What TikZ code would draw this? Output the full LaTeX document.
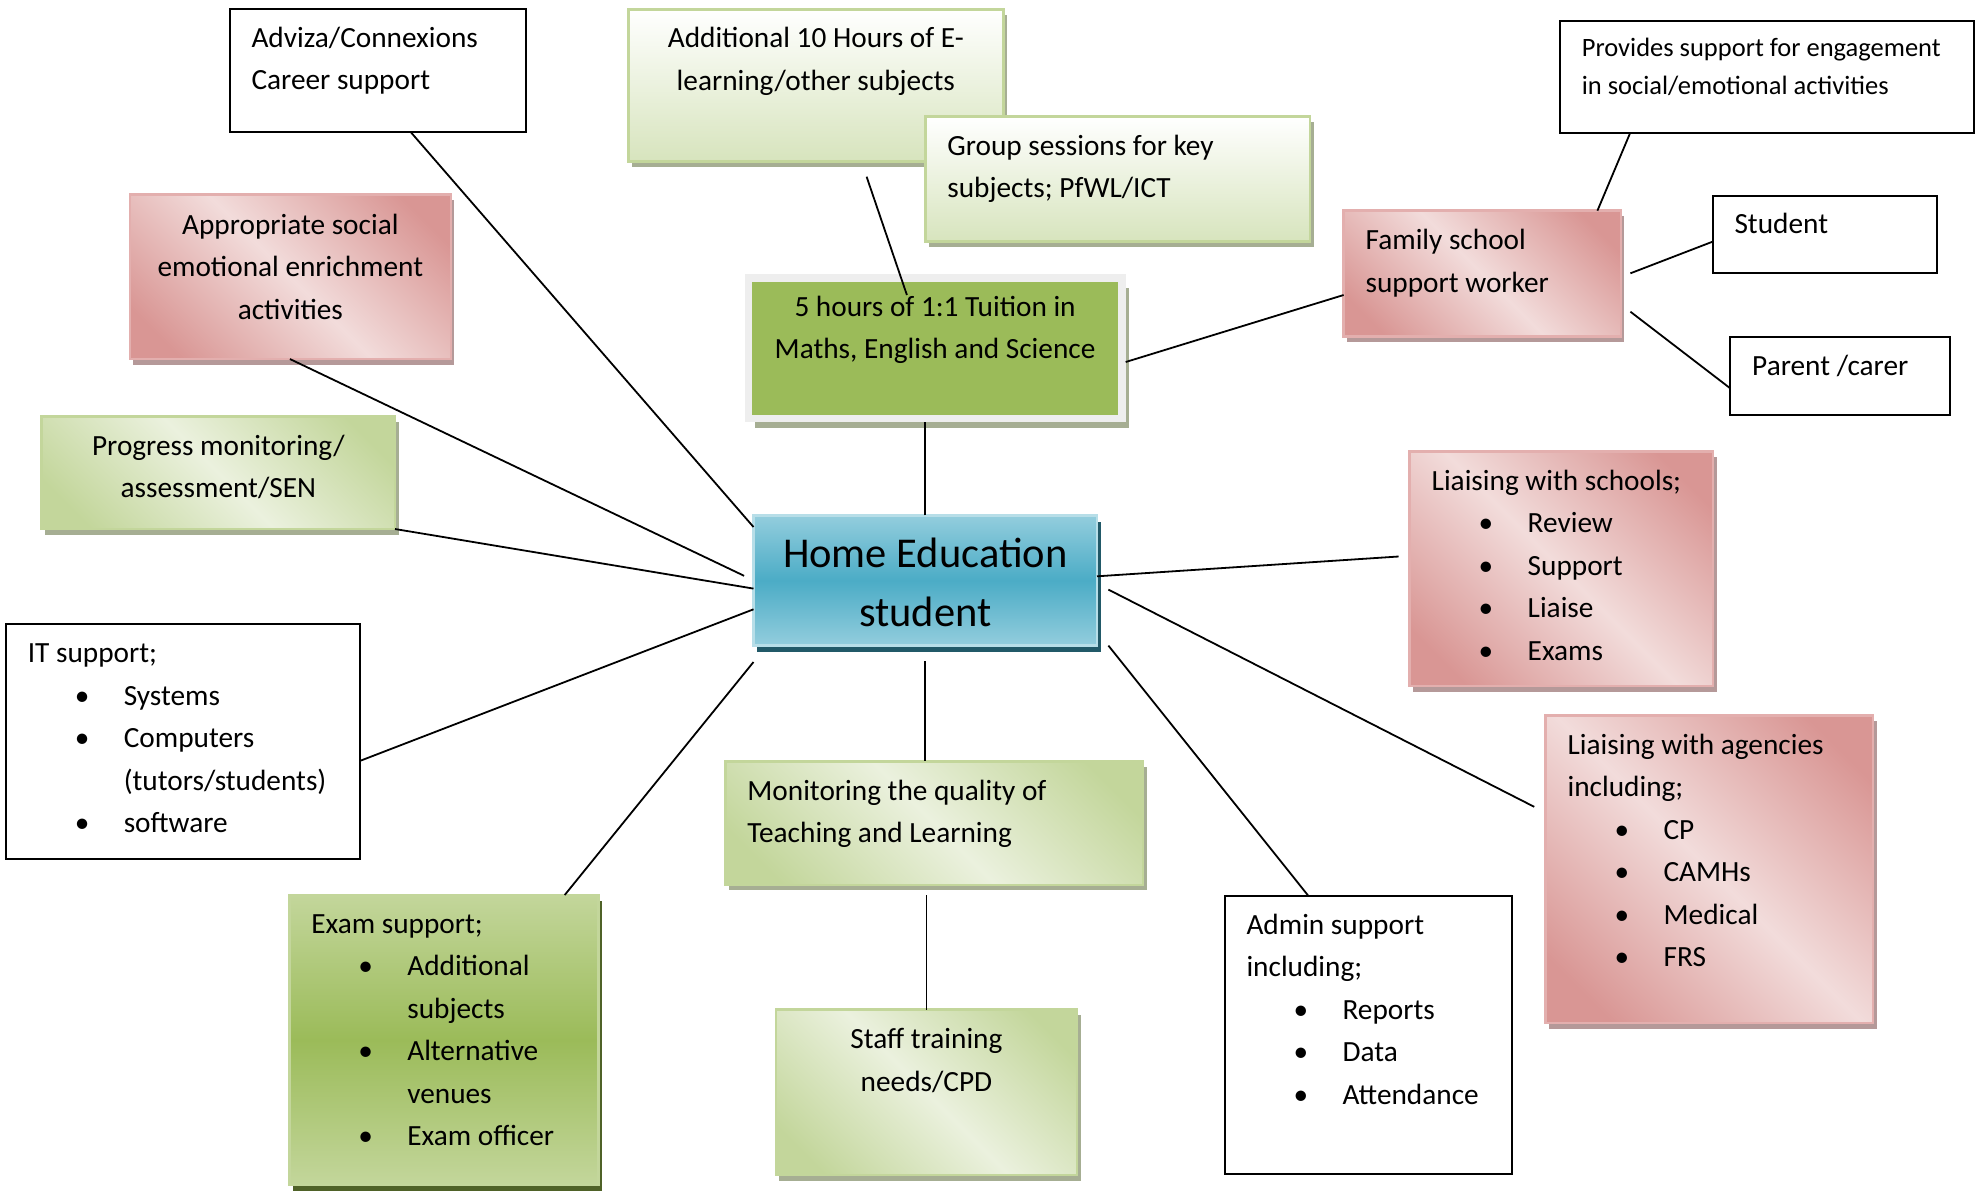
\documentclass[tikz,border=0pt]{standalone}
\usepackage{fontspec}
\setmainfont{Carlito}
\usetikzlibrary{shadows,calc}

\definecolor{pkd}{HTML}{D99694}
\definecolor{pkl}{HTML}{F2DCDB}
\definecolor{pkb}{HTML}{E3AFAE}
\definecolor{pks}{HTML}{B59999}
\definecolor{gnd}{HTML}{C3D69B}
\definecolor{gnl}{HTML}{EBF1DE}
\definecolor{gnb}{HTML}{C3D69B}
\definecolor{gns}{HTML}{A6AE93}
\definecolor{gnm}{HTML}{9BBB59}
\definecolor{gnt}{HTML}{D7E4BD}
\definecolor{gdk}{HTML}{4F6228}
\definecolor{bll}{HTML}{93CDDD}
\definecolor{blm}{HTML}{4BACC6}
\definecolor{blb}{HTML}{B7DEE8}
\definecolor{bls}{HTML}{215968}
\definecolor{frm}{HTML}{EEEEEE}

\pgfdeclarehorizontalshading{pinkdiag}{100bp}{color(0bp)=(pkd); color(22bp)=(pkd); color(50bp)=(pkl); color(78bp)=(pkd); color(100bp)=(pkd)}
\pgfdeclarehorizontalshading{greendiag}{100bp}{color(0bp)=(gnd); color(22bp)=(gnd); color(50bp)=(gnl); color(78bp)=(gnd); color(100bp)=(gnd)}

\newcommand{\tbc}[4]{\parbox[c][#2pt][t]{#1pt}{\centering\rule{0pt}{#3pt}#4}}
\newcommand{\tbl}[4]{\parbox[c][#2pt][t]{#1pt}{\raggedright\leftskip=22pt\relax\rule{0pt}{#3pt}#4}}
\newcommand{\bi}[1]{\makebox[96pt][l]{\hspace{47pt}\textbullet}#1}
\newcommand{\bc}[1]{\hspace*{96pt}#1}

\tikzset{
  base/.style={anchor=north west, inner sep=0pt, outer sep=0pt, font=\fontsize{29.3}{42.5}\selectfont},
  wbox/.style={base, draw=black, line width=2pt, fill=white},
  pbox/.style={base, draw=pkb, line width=2.5pt, shade, shading=pinkdiag, shading angle=45,
    general shadow={fill=pks, shadow xshift=3.5pt, shadow yshift=-5.5pt}},
  gbox/.style={base, draw=gnb, line width=2.5pt, shade, shading=greendiag, shading angle=45,
    general shadow={fill=gns, shadow xshift=3.5pt, shadow yshift=-5.5pt}},
  gvbox/.style={base, draw=gnb, line width=2.5pt, top color=white, bottom color=gnt,
    general shadow={fill=gns, shadow xshift=3.5pt, shadow yshift=-5.5pt}},
  ebox/.style={base, draw=gnb, line width=2.5pt, top color=gnd, bottom color=gnd, middle color=gnm,
    general shadow={fill=gdk, shadow xshift=3.5pt, shadow yshift=-5.5pt}},
  hbox/.style={base, draw=blb, line width=2.5pt, top color=bll, bottom color=bll, middle color=blm,
    general shadow={fill=bls, shadow xshift=3.5pt, shadow yshift=-6.5pt}},
  tbox/.style={base, draw=frm, line width=7.5pt, fill=gnm, outer sep=3.75pt,
    general shadow={fill=gns, shadow xshift=7pt, shadow yshift=-10pt}},
  link/.style={draw=black, line width=1.8pt},
}

\begin{document}
\begin{tikzpicture}[x=1pt, y=-1pt]
\path[use as bounding box, fill=white] (0,0) rectangle (1977,1192);

% nodes
\node[wbox] (adviza) at (229.5,8.8) {\tbl{296.3}{123.6}{38.5}{Adviza/Connexions\\Career support}};
\node[gvbox] (addl) at (628.3,9.3) {\tbc{375.1}{152.4}{38.5}{Additional 10 Hours of E-\\learning/other subjects}};
\node[gvbox] (group) at (925.3,116.7) {\tbl{384.7}{125}{38.5}{Group sessions for key\\subjects; PfWL/ICT}};
\node[tbox] (tuition) at (744.5,274) {\tbc{373.7}{140.5}{38.5}{5 hours of 1:1 Tuition in\\Maths, English and Science}};
\node[wbox, font=\fontsize{26.5}{37.3}\selectfont] (provides) at (1559.8,20.7) {\tbl{414}{112.6}{36}{Provides support for engagement\\in social/emotional activities}};
\node[pbox] (family) at (1343.6,210.7) {\tbl{277.3}{126}{39}{Family school\\support worker}};
\node[wbox] (student) at (1712.5,195.7) {\tbl{224.1}{77.6}{37.6}{Student}};
\node[wbox] (parent) at (1730.2,337.3) {\tbl{220}{77.7}{37.7}{Parent /carer}};
\node[pbox] (approp) at (129.9,194.7) {\tbc{320.9}{164.3}{39.5}{Appropriate social\\emotional enrichment\\activities}};
\node[gbox] (progress) at (41.7,416.5) {\tbc{353.3}{112.5}{38.5}{Progress monitoring/\\assessment/SEN}};
\node[hbox, font=\fontsize{42.5}{59.6}\selectfont] (home) at (753.5,515.4) {\tbc{343.5}{130.2}{51.6}{Home Education\\student}};
\node[pbox] (schools) at (1409.7,451.7) {\tbl{303.5}{234.5}{38.5}{Liaising with schools;\\\bi{Review}\\\bi{Support}\\\bi{Liaise}\\\bi{Exams}}};
\node[wbox] (it) at (5.8,624.4) {\tbl{354.4}{234.2}{38.5}{IT support;\\\bi{Systems}\\\bi{Computers}\\\bc{(tutors/students)}\\\bi{software}}};
\node[pbox] (agencies) at (1545.6,715.5) {\tbl{327.5}{307.6}{38.7}{Liaising with agencies\\including;\\\bi{CP}\\\bi{CAMHs}\\\bi{Medical}\\\bi{FRS}}};
\node[gbox] (monit) at (725.4,761.3) {\tbl{417.8}{123.5}{39}{Monitoring the quality of\\Teaching and Learning}};
\node[ebox] (exam) at (289.3,895) {\tbl{309}{290}{38.3}{Exam support;\\\bi{Additional}\\\bc{subjects}\\\bi{Alternative}\\\bc{venues}\\\bi{Exam officer}}};
\node[gbox] (staff) at (775.8,1009.7) {\tbc{301.3}{165.5}{39}{Staff training\\needs/CPD}};
\node[wbox] (admin) at (1224.5,895.9) {\tbl{287.3}{278.5}{38.5}{Admin support\\including;\\\bi{Reports}\\\bi{Data}\\\bi{Attendance}}};

% connectors
\draw[link] ($(adviza.south west)+(181.5,0)$) -- ($(home.north west)+(0,11.6)$);
\draw[link] ($(addl.south west)+(238.3,15)$) -- ($(tuition.north west)+(162.4,21)$);
\draw[link] (home.north) -- (home.north |- tuition.south);
\draw[link] ($(tuition.east)+(0,14)$) -- ($(family.west)+(0,21.3)$);
\draw[link] ($(family.north west)+(253.8,0)$) -- ($(provides.south west)+(70.2,0)$);
\draw[link] ($(family.north east)+(9.5,62.6)$) -- ($(student.west)+(0,7.2)$);
\draw[link] ($(family.north east)+(9.5,101)$) -- ($(parent.north west)+(0,51)$);
\draw[link] ($(approp.south west)+(160,0)$) -- ($(home.north west)+(-9.4,60.4)$);
\draw[link] (progress.south east) -- ($(home.north west)+(0,73.2)$);
\draw[link] ($(it.north east)+(0,136.4)$) -- ($(home.north west)+(0,93.9)$);
\draw[link] ($(exam.north west)+(275.4,0)$) -- ($(home.south west)+(0,16.4)$);
\draw[link] ($(home.south)+(0,15.4)$) -- (home.south |- monit.north);
\draw[link] ($(staff.north |- monit.south)+(0,10.2)$) -- (staff.north);
\draw[link] ($(home.south east)+(11.4,0)$) -- ($(admin.north west)+(83.9,0)$);
\draw[link] ($(home.north east)+(11.4,74.2)$) -- ($(agencies.north west)+(-11.4,91.3)$);
\draw[link] ($(home.north east)+(0,60.9)$) -- ($(schools.north west)+(-11.1,104.8)$);
\end{tikzpicture}
\end{document}
